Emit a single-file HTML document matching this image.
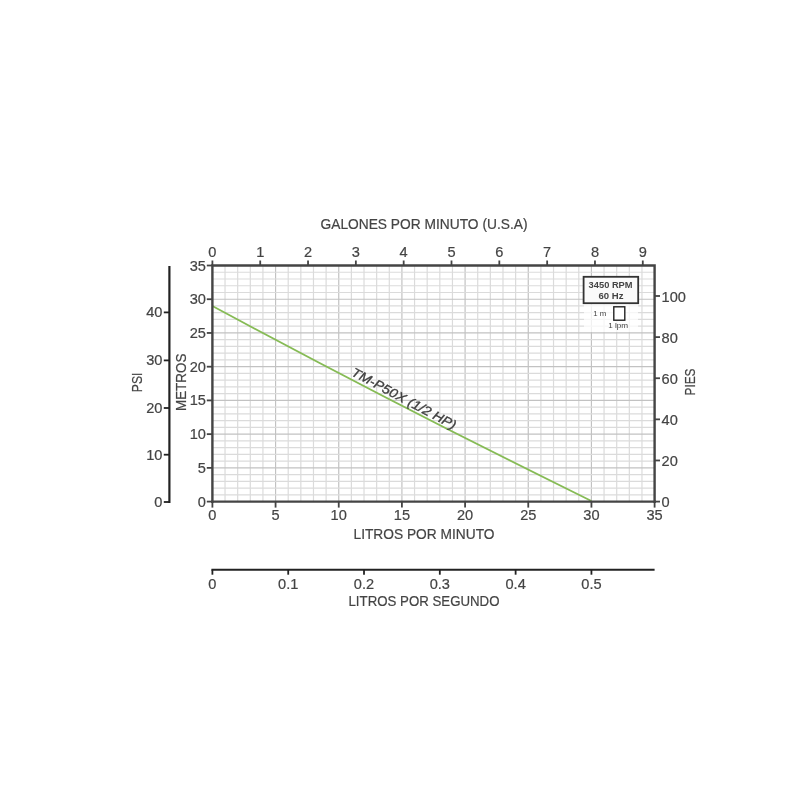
<!DOCTYPE html><html><head><meta charset="utf-8"><title>Chart</title><style>html,body{margin:0;padding:0;background:#fff}svg{display:block;filter:blur(0.55px)}text{font-family:"Liberation Sans",sans-serif;fill:#444}</style></head><body>
<svg width="800" height="800" viewBox="0 0 800 800">
<rect width="800" height="800" fill="#fff"/>
<g><line x1="225.03" y1="265.5" x2="225.03" y2="501.6" stroke="#dbdbdb" stroke-width="1.2"/><line x1="237.67" y1="265.5" x2="237.67" y2="501.6" stroke="#dbdbdb" stroke-width="1.2"/><line x1="250.30" y1="265.5" x2="250.30" y2="501.6" stroke="#dbdbdb" stroke-width="1.2"/><line x1="262.94" y1="265.5" x2="262.94" y2="501.6" stroke="#dbdbdb" stroke-width="1.2"/><line x1="275.57" y1="265.5" x2="275.57" y2="501.6" stroke="#c2c2c2" stroke-width="1.2"/><line x1="288.21" y1="265.5" x2="288.21" y2="501.6" stroke="#dbdbdb" stroke-width="1.2"/><line x1="300.84" y1="265.5" x2="300.84" y2="501.6" stroke="#dbdbdb" stroke-width="1.2"/><line x1="313.47" y1="265.5" x2="313.47" y2="501.6" stroke="#dbdbdb" stroke-width="1.2"/><line x1="326.11" y1="265.5" x2="326.11" y2="501.6" stroke="#dbdbdb" stroke-width="1.2"/><line x1="338.74" y1="265.5" x2="338.74" y2="501.6" stroke="#c2c2c2" stroke-width="1.2"/><line x1="351.38" y1="265.5" x2="351.38" y2="501.6" stroke="#dbdbdb" stroke-width="1.2"/><line x1="364.01" y1="265.5" x2="364.01" y2="501.6" stroke="#dbdbdb" stroke-width="1.2"/><line x1="376.65" y1="265.5" x2="376.65" y2="501.6" stroke="#dbdbdb" stroke-width="1.2"/><line x1="389.28" y1="265.5" x2="389.28" y2="501.6" stroke="#dbdbdb" stroke-width="1.2"/><line x1="401.91" y1="265.5" x2="401.91" y2="501.6" stroke="#c2c2c2" stroke-width="1.2"/><line x1="414.55" y1="265.5" x2="414.55" y2="501.6" stroke="#dbdbdb" stroke-width="1.2"/><line x1="427.18" y1="265.5" x2="427.18" y2="501.6" stroke="#dbdbdb" stroke-width="1.2"/><line x1="439.82" y1="265.5" x2="439.82" y2="501.6" stroke="#dbdbdb" stroke-width="1.2"/><line x1="452.45" y1="265.5" x2="452.45" y2="501.6" stroke="#dbdbdb" stroke-width="1.2"/><line x1="465.09" y1="265.5" x2="465.09" y2="501.6" stroke="#c2c2c2" stroke-width="1.2"/><line x1="477.72" y1="265.5" x2="477.72" y2="501.6" stroke="#dbdbdb" stroke-width="1.2"/><line x1="490.35" y1="265.5" x2="490.35" y2="501.6" stroke="#dbdbdb" stroke-width="1.2"/><line x1="502.99" y1="265.5" x2="502.99" y2="501.6" stroke="#dbdbdb" stroke-width="1.2"/><line x1="515.62" y1="265.5" x2="515.62" y2="501.6" stroke="#dbdbdb" stroke-width="1.2"/><line x1="528.26" y1="265.5" x2="528.26" y2="501.6" stroke="#c2c2c2" stroke-width="1.2"/><line x1="540.89" y1="265.5" x2="540.89" y2="501.6" stroke="#dbdbdb" stroke-width="1.2"/><line x1="553.53" y1="265.5" x2="553.53" y2="501.6" stroke="#dbdbdb" stroke-width="1.2"/><line x1="566.16" y1="265.5" x2="566.16" y2="501.6" stroke="#dbdbdb" stroke-width="1.2"/><line x1="578.79" y1="265.5" x2="578.79" y2="501.6" stroke="#dbdbdb" stroke-width="1.2"/><line x1="591.43" y1="265.5" x2="591.43" y2="501.6" stroke="#c2c2c2" stroke-width="1.2"/><line x1="604.06" y1="265.5" x2="604.06" y2="501.6" stroke="#dbdbdb" stroke-width="1.2"/><line x1="616.70" y1="265.5" x2="616.70" y2="501.6" stroke="#dbdbdb" stroke-width="1.2"/><line x1="629.33" y1="265.5" x2="629.33" y2="501.6" stroke="#dbdbdb" stroke-width="1.2"/><line x1="641.97" y1="265.5" x2="641.97" y2="501.6" stroke="#dbdbdb" stroke-width="1.2"/><line x1="212.4" y1="494.85" x2="654.6" y2="494.85" stroke="#dbdbdb" stroke-width="1.2"/><line x1="212.4" y1="488.11" x2="654.6" y2="488.11" stroke="#dbdbdb" stroke-width="1.2"/><line x1="212.4" y1="481.36" x2="654.6" y2="481.36" stroke="#dbdbdb" stroke-width="1.2"/><line x1="212.4" y1="474.62" x2="654.6" y2="474.62" stroke="#dbdbdb" stroke-width="1.2"/><line x1="212.4" y1="467.87" x2="654.6" y2="467.87" stroke="#c2c2c2" stroke-width="1.2"/><line x1="212.4" y1="461.13" x2="654.6" y2="461.13" stroke="#dbdbdb" stroke-width="1.2"/><line x1="212.4" y1="454.38" x2="654.6" y2="454.38" stroke="#dbdbdb" stroke-width="1.2"/><line x1="212.4" y1="447.63" x2="654.6" y2="447.63" stroke="#dbdbdb" stroke-width="1.2"/><line x1="212.4" y1="440.89" x2="654.6" y2="440.89" stroke="#dbdbdb" stroke-width="1.2"/><line x1="212.4" y1="434.14" x2="654.6" y2="434.14" stroke="#c2c2c2" stroke-width="1.2"/><line x1="212.4" y1="427.40" x2="654.6" y2="427.40" stroke="#dbdbdb" stroke-width="1.2"/><line x1="212.4" y1="420.65" x2="654.6" y2="420.65" stroke="#dbdbdb" stroke-width="1.2"/><line x1="212.4" y1="413.91" x2="654.6" y2="413.91" stroke="#dbdbdb" stroke-width="1.2"/><line x1="212.4" y1="407.16" x2="654.6" y2="407.16" stroke="#dbdbdb" stroke-width="1.2"/><line x1="212.4" y1="400.41" x2="654.6" y2="400.41" stroke="#c2c2c2" stroke-width="1.2"/><line x1="212.4" y1="393.67" x2="654.6" y2="393.67" stroke="#dbdbdb" stroke-width="1.2"/><line x1="212.4" y1="386.92" x2="654.6" y2="386.92" stroke="#dbdbdb" stroke-width="1.2"/><line x1="212.4" y1="380.18" x2="654.6" y2="380.18" stroke="#dbdbdb" stroke-width="1.2"/><line x1="212.4" y1="373.43" x2="654.6" y2="373.43" stroke="#dbdbdb" stroke-width="1.2"/><line x1="212.4" y1="366.69" x2="654.6" y2="366.69" stroke="#c2c2c2" stroke-width="1.2"/><line x1="212.4" y1="359.94" x2="654.6" y2="359.94" stroke="#dbdbdb" stroke-width="1.2"/><line x1="212.4" y1="353.19" x2="654.6" y2="353.19" stroke="#dbdbdb" stroke-width="1.2"/><line x1="212.4" y1="346.45" x2="654.6" y2="346.45" stroke="#dbdbdb" stroke-width="1.2"/><line x1="212.4" y1="339.70" x2="654.6" y2="339.70" stroke="#dbdbdb" stroke-width="1.2"/><line x1="212.4" y1="332.96" x2="654.6" y2="332.96" stroke="#c2c2c2" stroke-width="1.2"/><line x1="212.4" y1="326.21" x2="654.6" y2="326.21" stroke="#dbdbdb" stroke-width="1.2"/><line x1="212.4" y1="319.47" x2="654.6" y2="319.47" stroke="#dbdbdb" stroke-width="1.2"/><line x1="212.4" y1="312.72" x2="654.6" y2="312.72" stroke="#dbdbdb" stroke-width="1.2"/><line x1="212.4" y1="305.97" x2="654.6" y2="305.97" stroke="#dbdbdb" stroke-width="1.2"/><line x1="212.4" y1="299.23" x2="654.6" y2="299.23" stroke="#c2c2c2" stroke-width="1.2"/><line x1="212.4" y1="292.48" x2="654.6" y2="292.48" stroke="#dbdbdb" stroke-width="1.2"/><line x1="212.4" y1="285.74" x2="654.6" y2="285.74" stroke="#dbdbdb" stroke-width="1.2"/><line x1="212.4" y1="278.99" x2="654.6" y2="278.99" stroke="#dbdbdb" stroke-width="1.2"/><line x1="212.4" y1="272.25" x2="654.6" y2="272.25" stroke="#dbdbdb" stroke-width="1.2"/></g>
<rect x="584" y="304" width="54" height="28" fill="#fff" opacity="0.75"/>
<path d="M212.40 306 Q402 408 591.43 501.00" fill="none" stroke="#86bb55" stroke-width="1.8"/>
<path d="M212.4 502.90000000000003 V265.5 H654.6 V502.90000000000003" fill="none" stroke="#444" stroke-width="2.4"/>
<line x1="211.1" y1="501.6" x2="655.9" y2="501.6" stroke="#444" stroke-width="2.4"/>
<line x1="169.4" y1="266" x2="169.4" y2="503.0" stroke="#222" stroke-width="2.2"/>
<line x1="211.4" y1="569.7" x2="654.6" y2="569.7" stroke="#222" stroke-width="2.0"/>
<g><line x1="212.40" y1="501.6" x2="212.40" y2="507.6" stroke="#444" stroke-width="1.8"/><line x1="275.57" y1="501.6" x2="275.57" y2="507.6" stroke="#444" stroke-width="1.8"/><line x1="338.74" y1="501.6" x2="338.74" y2="507.6" stroke="#444" stroke-width="1.8"/><line x1="401.91" y1="501.6" x2="401.91" y2="507.6" stroke="#444" stroke-width="1.8"/><line x1="465.09" y1="501.6" x2="465.09" y2="507.6" stroke="#444" stroke-width="1.8"/><line x1="528.26" y1="501.6" x2="528.26" y2="507.6" stroke="#444" stroke-width="1.8"/><line x1="591.43" y1="501.6" x2="591.43" y2="507.6" stroke="#444" stroke-width="1.8"/><line x1="654.60" y1="501.6" x2="654.60" y2="507.6" stroke="#444" stroke-width="1.8"/><line x1="212.40" y1="265.5" x2="212.40" y2="260.5" stroke="#444" stroke-width="1.8"/><line x1="260.22" y1="265.5" x2="260.22" y2="260.5" stroke="#444" stroke-width="1.8"/><line x1="308.04" y1="265.5" x2="308.04" y2="260.5" stroke="#444" stroke-width="1.8"/><line x1="355.86" y1="265.5" x2="355.86" y2="260.5" stroke="#444" stroke-width="1.8"/><line x1="403.68" y1="265.5" x2="403.68" y2="260.5" stroke="#444" stroke-width="1.8"/><line x1="451.50" y1="265.5" x2="451.50" y2="260.5" stroke="#444" stroke-width="1.8"/><line x1="499.32" y1="265.5" x2="499.32" y2="260.5" stroke="#444" stroke-width="1.8"/><line x1="547.15" y1="265.5" x2="547.15" y2="260.5" stroke="#444" stroke-width="1.8"/><line x1="594.97" y1="265.5" x2="594.97" y2="260.5" stroke="#444" stroke-width="1.8"/><line x1="642.79" y1="265.5" x2="642.79" y2="260.5" stroke="#444" stroke-width="1.8"/><line x1="212.4" y1="501.60" x2="206.8" y2="501.60" stroke="#444" stroke-width="1.8"/><line x1="212.4" y1="467.87" x2="206.8" y2="467.87" stroke="#444" stroke-width="1.8"/><line x1="212.4" y1="434.14" x2="206.8" y2="434.14" stroke="#444" stroke-width="1.8"/><line x1="212.4" y1="400.41" x2="206.8" y2="400.41" stroke="#444" stroke-width="1.8"/><line x1="212.4" y1="366.69" x2="206.8" y2="366.69" stroke="#444" stroke-width="1.8"/><line x1="212.4" y1="332.96" x2="206.8" y2="332.96" stroke="#444" stroke-width="1.8"/><line x1="212.4" y1="299.23" x2="206.8" y2="299.23" stroke="#444" stroke-width="1.8"/><line x1="212.4" y1="265.50" x2="206.8" y2="265.50" stroke="#444" stroke-width="1.8"/><line x1="654.6" y1="501.60" x2="660.0" y2="501.60" stroke="#444" stroke-width="1.8"/><line x1="654.6" y1="460.48" x2="660.0" y2="460.48" stroke="#444" stroke-width="1.8"/><line x1="654.6" y1="419.36" x2="660.0" y2="419.36" stroke="#444" stroke-width="1.8"/><line x1="654.6" y1="378.23" x2="660.0" y2="378.23" stroke="#444" stroke-width="1.8"/><line x1="654.6" y1="337.11" x2="660.0" y2="337.11" stroke="#444" stroke-width="1.8"/><line x1="654.6" y1="295.99" x2="660.0" y2="295.99" stroke="#444" stroke-width="1.8"/><line x1="169.4" y1="502.00" x2="163.8" y2="502.00" stroke="#222" stroke-width="1.8"/><line x1="169.4" y1="454.70" x2="163.8" y2="454.70" stroke="#222" stroke-width="1.8"/><line x1="169.4" y1="408.00" x2="163.8" y2="408.00" stroke="#222" stroke-width="1.8"/><line x1="169.4" y1="360.40" x2="163.8" y2="360.40" stroke="#222" stroke-width="1.8"/><line x1="169.4" y1="312.40" x2="163.8" y2="312.40" stroke="#222" stroke-width="1.8"/><line x1="212.40" y1="569.7" x2="212.40" y2="574.7" stroke="#222" stroke-width="1.8"/><line x1="288.21" y1="569.7" x2="288.21" y2="574.7" stroke="#222" stroke-width="1.8"/><line x1="364.01" y1="569.7" x2="364.01" y2="574.7" stroke="#222" stroke-width="1.8"/><line x1="439.82" y1="569.7" x2="439.82" y2="574.7" stroke="#222" stroke-width="1.8"/><line x1="515.62" y1="569.7" x2="515.62" y2="574.7" stroke="#222" stroke-width="1.8"/><line x1="591.43" y1="569.7" x2="591.43" y2="574.7" stroke="#222" stroke-width="1.8"/></g>
<g stroke="#444" stroke-width="0.2"><text x="212.40" y="519.8" font-size="14.6" text-anchor="middle">0</text><text x="275.57" y="519.8" font-size="14.6" text-anchor="middle">5</text><text x="338.74" y="519.8" font-size="14.6" text-anchor="middle">10</text><text x="401.91" y="519.8" font-size="14.6" text-anchor="middle">15</text><text x="465.09" y="519.8" font-size="14.6" text-anchor="middle">20</text><text x="528.26" y="519.8" font-size="14.6" text-anchor="middle">25</text><text x="591.43" y="519.8" font-size="14.6" text-anchor="middle">30</text><text x="654.60" y="519.8" font-size="14.6" text-anchor="middle">35</text><text x="212.40" y="257.4" font-size="14.6" text-anchor="middle">0</text><text x="260.22" y="257.4" font-size="14.6" text-anchor="middle">1</text><text x="308.04" y="257.4" font-size="14.6" text-anchor="middle">2</text><text x="355.86" y="257.4" font-size="14.6" text-anchor="middle">3</text><text x="403.68" y="257.4" font-size="14.6" text-anchor="middle">4</text><text x="451.50" y="257.4" font-size="14.6" text-anchor="middle">5</text><text x="499.32" y="257.4" font-size="14.6" text-anchor="middle">6</text><text x="547.15" y="257.4" font-size="14.6" text-anchor="middle">7</text><text x="594.97" y="257.4" font-size="14.6" text-anchor="middle">8</text><text x="642.79" y="257.4" font-size="14.6" text-anchor="middle">9</text><text x="205.9" y="506.60" font-size="14.6" text-anchor="end">0</text><text x="205.9" y="472.87" font-size="14.6" text-anchor="end">5</text><text x="205.9" y="439.14" font-size="14.6" text-anchor="end">10</text><text x="205.9" y="405.41" font-size="14.6" text-anchor="end">15</text><text x="205.9" y="371.69" font-size="14.6" text-anchor="end">20</text><text x="205.9" y="337.96" font-size="14.6" text-anchor="end">25</text><text x="205.9" y="304.23" font-size="14.6" text-anchor="end">30</text><text x="205.9" y="270.50" font-size="14.6" text-anchor="end">35</text><text x="661.6" y="507.20" font-size="14.6" text-anchor="start">0</text><text x="661.6" y="466.08" font-size="14.6" text-anchor="start">20</text><text x="661.6" y="424.96" font-size="14.6" text-anchor="start">40</text><text x="661.6" y="383.83" font-size="14.6" text-anchor="start">60</text><text x="661.6" y="342.71" font-size="14.6" text-anchor="start">80</text><text x="661.6" y="301.59" font-size="14.6" text-anchor="start">100</text><text x="162.4" y="507.00" font-size="14.6" text-anchor="end">0</text><text x="162.4" y="459.70" font-size="14.6" text-anchor="end">10</text><text x="162.4" y="413.00" font-size="14.6" text-anchor="end">20</text><text x="162.4" y="365.40" font-size="14.6" text-anchor="end">30</text><text x="162.4" y="317.40" font-size="14.6" text-anchor="end">40</text><text x="212.40" y="588.7" font-size="14.6" text-anchor="middle">0</text><text x="288.21" y="588.7" font-size="14.6" text-anchor="middle">0.1</text><text x="364.01" y="588.7" font-size="14.6" text-anchor="middle">0.2</text><text x="439.82" y="588.7" font-size="14.6" text-anchor="middle">0.3</text><text x="515.62" y="588.7" font-size="14.6" text-anchor="middle">0.4</text><text x="591.43" y="588.7" font-size="14.6" text-anchor="middle">0.5</text><text x="424" y="229.2" font-size="14.4" text-anchor="middle" textLength="207" lengthAdjust="spacingAndGlyphs">GALONES POR MINUTO (U.S.A)</text><text x="424" y="539" font-size="14.4" text-anchor="middle" textLength="141" lengthAdjust="spacingAndGlyphs">LITROS POR MINUTO</text><text x="424" y="606" font-size="14.4" text-anchor="middle" textLength="151" lengthAdjust="spacingAndGlyphs">LITROS POR SEGUNDO</text><text transform="translate(142.3,382.4) rotate(-90)" font-size="14.4" text-anchor="middle" textLength="19.5" lengthAdjust="spacingAndGlyphs">PSI</text><text transform="translate(186.4,382.3) rotate(-90)" font-size="14.4" text-anchor="middle" textLength="57.5" lengthAdjust="spacingAndGlyphs">METROS</text><text transform="translate(695,382) rotate(-90)" font-size="14.4" text-anchor="middle" textLength="27" lengthAdjust="spacingAndGlyphs">PIES</text><text transform="translate(350.5,375) rotate(28)" font-size="12.8" font-style="italic" text-anchor="start" fill="#333" textLength="116.5" lengthAdjust="spacingAndGlyphs" stroke="#333" stroke-width="0.3">TM-P50X (1/2 HP)</text></g>
<rect x="583.6" y="276.8" width="54.6" height="26.4" fill="#fafafa" stroke="#333" stroke-width="1.8"/>
<text x="610.6" y="287.6" font-size="8.6" font-weight="bold" text-anchor="middle" fill="#444" textLength="44" lengthAdjust="spacingAndGlyphs">3450 RPM</text>
<text x="611" y="299" font-size="8.6" font-weight="bold" text-anchor="middle" fill="#444" textLength="25" lengthAdjust="spacingAndGlyphs">60 Hz</text>
<rect x="613.8" y="306.8" width="11" height="13.4" fill="#fff" stroke="#222" stroke-width="1.4"/>
<text x="599.7" y="316" font-size="6.6" text-anchor="middle" fill="#7a7a7a" textLength="13" lengthAdjust="spacingAndGlyphs">1 m</text>
<text x="618.2" y="328.4" font-size="6.6" text-anchor="middle" fill="#7a7a7a" textLength="20" lengthAdjust="spacingAndGlyphs">1 lpm</text>
</svg></body></html>
